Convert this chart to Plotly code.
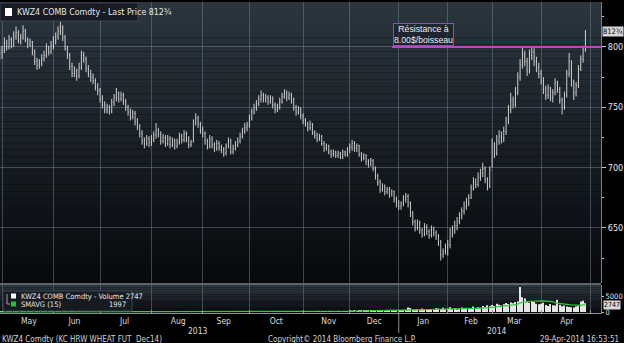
import pandas as pd
import plotly.graph_objects as go

# ---------------- data ----------------
holidays = ["2013-05-27", "2013-07-04", "2013-09-02", "2013-11-28", "2013-12-25",
            "2014-01-01", "2014-01-20", "2014-02-17", "2014-04-18"]
first_day = "2013-04-29"
last_day = "2014-04-29"
first_open = 788

closes = [
    792, 795,  # Apr 13
    797, 803, 800, 806, 801, 809, 812, 805, 808, 813, 806, 802, 804, 796, 788, 785, 786, 790, 793, 799, 796, 801,  # May
    805, 809, 813, 816, 808, 799, 793, 784, 778, 780, 776, 783, 793, 790, 782, 778, 775, 772, 767, 764,  # Jun
    757, 752, 748, 750, 747, 754, 758, 762, 757, 760, 755, 750, 746, 742, 745, 738, 734, 728, 722, 720, 724, 721,  # Jul
    724, 727, 731, 728, 722, 725, 720, 724, 719, 722, 718, 721, 726, 723, 728, 724, 719, 721, 738, 741, 736, 731,  # Aug
    728, 722, 718, 724, 719, 716, 720, 717, 715, 712, 718, 722, 713, 716, 719, 722, 726, 730, 733, 735,  # Sep
    741, 746, 750, 753, 757, 760, 756, 758, 755, 757, 752, 748, 750, 755, 759, 762, 758, 760, 756, 750, 746, 748, 743,  # Oct
    739, 736, 733, 736, 729, 727, 724, 726, 720, 716, 718, 713, 711, 713, 710, 712, 709, 713, 711, 715,  # Nov
    717, 720, 716, 718, 711, 708, 710, 705, 703, 706, 699, 693, 688, 682, 684, 680, 682, 678, 680, 674, 671,  # Dec
    668, 670, 674, 676, 670, 662, 655, 650, 654, 648, 645, 651, 647, 644, 649, 646, 643, 638, 628, 630, 634,  # Jan 14
    636, 645, 648, 652, 655, 660, 664, 668, 671, 675, 683, 688, 686, 692, 695, 699, 690, 685, 698,  # Feb
    718, 712, 722, 726, 724, 730, 738, 748, 756, 752, 762, 775, 785, 794, 788, 780, 793, 796, 788, 783, 778,  # Mar
    772, 765, 760, 766, 758, 762, 770, 765, 756, 750, 760, 778, 788, 770, 762, 768, 782, 790, 798, 812.75,  # Apr
]
highs = [
    797, 800,
    801, 808, 806, 810, 808, 813, 817, 814, 811, 818, 815, 808, 807, 805, 798, 791, 790, 794, 797, 803, 801, 805,
    809, 812, 817, 821, 818, 810, 801, 795, 787, 784, 782, 787, 797, 796, 792, 785, 781, 778, 774, 770,
    766, 760, 755, 753, 752, 757, 761, 766, 763, 763, 762, 757, 752, 749, 748, 747, 741, 736, 731, 725, 727, 726,
    727, 730, 737, 733, 730, 728, 727, 727, 726, 725, 724, 724, 729, 728, 731, 730, 726, 723, 740, 745, 743, 738,
    734, 730, 724, 727, 726, 721, 723, 722, 719, 717, 720, 725, 724, 719, 722, 725, 729, 733, 737, 738,
    744, 749, 753, 756, 760, 764, 762, 761, 760, 760, 759, 754, 753, 758, 762, 765, 764, 763, 762, 758, 752, 751, 750,
    745, 741, 738, 739, 737, 731, 729, 728, 727, 722, 720, 719, 715, 715, 714, 714, 713, 715, 714, 717,
    720, 723, 722, 720, 719, 713, 712, 711, 707, 708, 707, 701, 695, 690, 687, 686, 684, 684, 682, 681, 676,
    673, 672, 677, 679, 678, 672, 664, 657, 657, 656, 650, 654, 653, 649, 652, 651, 648, 645, 640, 633, 637,
    640, 650, 652, 656, 659, 663, 667, 672, 675, 678, 686, 692, 691, 696, 699, 704, 701, 692, 701,
    724, 721, 727, 731, 730, 734, 742, 752, 762, 759, 767, 779, 790, 800, 797, 791, 798, 800, 799, 792, 787,
    781, 775, 768, 769, 767, 765, 774, 772, 767, 758, 763, 781, 795, 789, 773, 771, 785, 793, 801, 814,
]
lows = [
    785, 789,
    790, 795, 797, 798, 799, 800, 806, 803, 802, 806, 804, 799, 800, 793, 785, 781, 782, 784, 788, 791, 793, 794,
    798, 802, 806, 810, 805, 797, 790, 781, 775, 775, 772, 774, 781, 787, 779, 775, 771, 769, 764, 760,
    754, 749, 745, 745, 744, 745, 751, 755, 754, 755, 752, 747, 743, 739, 740, 735, 731, 725, 719, 716, 718, 717,
    718, 721, 724, 725, 719, 720, 717, 718, 716, 717, 715, 716, 719, 720, 721, 721, 716, 717, 721, 735, 733, 728,
    725, 719, 715, 716, 716, 713, 714, 714, 712, 709, 710, 716, 711, 711, 714, 717, 720, 724, 728, 730,
    733, 739, 744, 747, 751, 754, 754, 754, 752, 753, 749, 745, 746, 748, 753, 757, 755, 756, 753, 747, 743, 744, 740,
    736, 734, 730, 731, 727, 724, 721, 722, 718, 713, 714, 711, 708, 709, 708, 708, 707, 707, 709, 709,
    712, 714, 713, 713, 709, 705, 706, 702, 700, 701, 697, 690, 685, 679, 680, 677, 678, 675, 676, 671, 667,
    665, 665, 668, 671, 667, 659, 652, 647, 648, 645, 642, 643, 644, 641, 642, 643, 640, 635, 623, 625, 628,
    627, 633, 642, 645, 648, 653, 657, 661, 665, 668, 674, 681, 683, 684, 689, 692, 687, 681, 683,
    700, 708, 710, 719, 720, 721, 727, 736, 745, 749, 750, 760, 772, 782, 784, 776, 778, 789, 784, 779, 774,
    769, 761, 756, 757, 755, 754, 760, 762, 753, 744, 748, 758, 775, 767, 756, 759, 766, 780, 787, 796,
]
volumes = [
    3, 5,
    8, 12, 5, 20, 15, 10, 30, 12, 8, 25, 18, 10, 14, 35, 22, 16, 12, 9, 20, 28, 15, 11,
    18, 25, 40, 30, 22, 35, 28, 45, 20, 15, 30, 42, 25, 18, 36, 50, 28, 20, 33, 60,
    40, 35, 22, 15, 30, 55, 42, 38, 26, 48, 35, 30, 62, 40, 28, 45, 70, 52, 38, 44, 60, 75,
    50, 42, 38, 65, 55, 48, 80, 60, 45, 52, 70, 58, 66, 90, 54, 48, 72, 85, 110, 95, 70, 88,
    75, 90, 68, 100, 85, 72, 95, 120, 80, 110, 90, 78, 130, 105, 88, 115, 140, 96, 120, 150,
    110, 130, 95, 160, 125, 140, 105, 170, 135, 120, 180, 150, 130, 160, 190, 145, 175, 140, 200, 165, 150, 210, 180,
    170, 220, 190, 160, 240, 205, 180, 230, 260, 210, 195, 280, 240, 220, 300, 250, 230, 270, 210, 180,
    320, 280, 350, 300, 420, 380, 330, 460, 400, 360, 520, 480, 600, 450, 380, 420, 300, 260, 350, 480, 520,
    450, 600, 700, 650, 1400, 1250, 800, 700, 900, 650, 1100, 750, 800, 600, 950, 700, 1200, 1100, 900, 1300, 850,
    1000, 1500, 900, 1200, 800, 1100, 1400, 950, 1300, 1000, 1200, 1700, 1100, 1500, 1300, 1900, 1600, 2100, 1800,
    2200, 1900, 2600, 2300, 2000, 2400, 2800, 2500, 3000, 2700, 3100, 3300, 7800, 4600, 4200, 3300, 2900, 3400, 3100, 2600, 2400,
    2600, 2900, 2200, 1900, 2500, 2100, 2000, 3800, 2300, 1800, 2000, 1700, 1600, 1500, 1400, 1700, 1900, 3300, 3500, 2747,
]
price_ticks = [650, 700, 750, 800]
resistance = 800
last_price_text = "812¾"
volume_text = "2747"
sma_text = "1997"

# ---------------- build ----------------
dates = [d for d in pd.bdate_range(first_day, last_day) if d.strftime("%Y-%m-%d") not in holidays]
n = min(len(dates), len(closes), len(highs), len(lows), len(volumes))
dates, closes, highs, lows, volumes = dates[:n], closes[:n], highs[:n], lows[:n], volumes[:n]
opens = [first_open] + closes[:-1]
sma = pd.Series(volumes).rolling(15, min_periods=1).mean().tolist()

FONT = "Liberation Sans Narrow, Arial Narrow, DejaVu Sans Condensed, Liberation Sans, sans-serif"
FONT2 = "Liberation Sans, Arial, sans-serif"
GRID = "rgba(115,128,140,0.50)"

fig = go.Figure()
fig.add_trace(go.Ohlc(
    x=dates, open=opens, high=highs, low=lows, close=closes,
    increasing=dict(line=dict(color="#ececec", width=0.85)),
    decreasing=dict(line=dict(color="#ececec", width=0.85)),
    tickwidth=0.2, xaxis="x", yaxis="y", showlegend=False, hoverinfo="skip"))
fig.add_trace(go.Bar(
    x=dates, y=volumes, marker=dict(color="#e6e6e6", line=dict(width=0)),
    xaxis="x2", yaxis="y2", showlegend=False, hoverinfo="skip"))
fig.add_trace(go.Scatter(
    x=dates, y=sma, mode="lines", line=dict(color="#2fc83a", width=1.2),
    xaxis="x2", yaxis="y2", showlegend=False, hoverinfo="skip"))

rb = [dict(bounds=["sat", "mon"]), dict(values=holidays)]
xr = ["2013-04-30 03:00", "2014-05-07 16:00"]

# pixel geometry helpers (plot area: x 0..601, y 2..313)
H_PLOT = 311.0
main_dom = [(313 - 283) / H_PLOT, 1.0]
vol_dom = [0.0, (313 - 285) / H_PLOT]

def ydm(py):   # pixel y -> main y-domain fraction
    return 1 - (py - 2) / 281.0

def ydv(py):   # pixel y -> volume y-domain fraction
    return 1 - (py - 285) / 28.0

def xd(px):
    return px / 601.0

def yp(py):    # pixel y -> paper fraction
    return (313 - py) / H_PLOT

shapes = []
# gradient backgrounds
nb = 40
top, bot = (43, 53, 62), (7, 9, 12)
for i in range(nb):
    t = i / (nb - 1)
    c = tuple(int(round(top[k] + (bot[k] - top[k]) * t)) for k in range(3))
    shapes.append(dict(type="rect", xref="x domain", yref="y domain", x0=0, x1=1,
                       y0=1 - (i + 1) / nb, y1=1 - i / nb, fillcolor="rgb(%d,%d,%d)" % c,
                       line=dict(width=0), layer="below"))
nv = 12
vtop, vbot = (44, 52, 60), (10, 12, 15)
for i in range(nv):
    t = i / (nv - 1)
    c = tuple(int(round(vtop[k] + (vbot[k] - vtop[k]) * t)) for k in range(3))
    shapes.append(dict(type="rect", xref="x2 domain", yref="y2 domain", x0=0, x1=1,
                       y0=1 - (i + 1) / nv, y1=1 - i / nv, fillcolor="rgb(%d,%d,%d)" % c,
                       line=dict(width=0), layer="below"))
# separator between panels
shapes.append(dict(type="rect", xref="paper", yref="paper", x0=0, x1=1,
                   y0=vol_dom[1], y1=main_dom[0], fillcolor="#5d646b", line=dict(width=0), layer="below"))
# resistance line
shapes.append(dict(type="line", xref="x domain", yref="y", x0=xd(392), x1=1, y0=resistance, y1=resistance,
                   line=dict(color="#c63fcf", width=2)))
# legend boxes
shapes.append(dict(type="rect", xref="x domain", yref="y domain", x0=0, x1=xd(138), y0=ydm(21), y1=ydm(3),
                   fillcolor="rgba(22,27,33,0.95)", line=dict(color="#3b4550", width=1)))
shapes.append(dict(type="rect", xref="x domain", yref="y domain", x0=xd(5), x1=xd(12), y0=ydm(16), y1=ydm(8),
                   fillcolor="#ffffff", line=dict(width=0)))
shapes.append(dict(type="rect", xref="x2 domain", yref="y2 domain", x0=xd(3), x1=xd(132), y0=ydv(311), y1=ydv(291),
                   fillcolor="rgba(22,27,33,0.95)", line=dict(color="#3b4550", width=1)))
shapes.append(dict(type="rect", xref="x2 domain", yref="y2 domain", x0=xd(11), x1=xd(16), y0=ydv(298.5), y1=ydv(293.5),
                   fillcolor="#ffffff", line=dict(width=0)))
shapes.append(dict(type="rect", xref="x2 domain", yref="y2 domain", x0=xd(11), x1=xd(16), y0=ydv(306.5), y1=ydv(301.5),
                   fillcolor="#22c22a", line=dict(width=0)))
shapes.append(dict(type="path", xref="paper", yref="paper",
                   path="M %f %f L %f %f L %f %f" % (xd(7), yp(294), xd(7), yp(304), xd(10), yp(304)),
                   line=dict(color="#9aa0a6", width=1)))
# year separator tick
shapes.append(dict(type="line", xref="x2", yref="paper", x0="2014-01-02", x1="2014-01-02",
                   y0=0, y1=yp(333), line=dict(color="#8a8f95", width=1)))

annotations = [
    dict(xref="x domain", yref="y domain", x=xd(15), y=ydm(12), xanchor="left", yanchor="middle",
         text="KWZ4 COMB Comdty - Last Price 812¾", showarrow=False,
         font=dict(family=FONT, size=8.8, color="#e6e6e6")),
    dict(xref="x domain", yref="y", x=xd(393), y=resistance + 1, xanchor="left", yanchor="bottom",
         text="Résistance à<br>8.00$/boisseau", showarrow=False, align="center",
         bordercolor="#7d5b9c", borderwidth=1, borderpad=0, bgcolor="rgba(25,30,40,0.6)",
         font=dict(family=FONT2, size=8.7, color="#ececec")),
    dict(xref="paper", yref="y", x=1.002, y=812.75, xanchor="left", yanchor="middle",
         text=last_price_text, showarrow=False, bgcolor="#d8d8d8", borderpad=0,
         font=dict(family=FONT, size=7.5, color="#000000")),
    dict(xref="x2 domain", yref="y2 domain", x=xd(19), y=ydv(296), xanchor="left", yanchor="middle",
         text="KWZ4 COMB Comdty - Volume " + volume_text, showarrow=False,
         font=dict(family=FONT, size=7.5, color="#e6e6e6")),
    dict(xref="x2 domain", yref="y2 domain", x=xd(19), y=ydv(304.5), xanchor="left", yanchor="middle",
         text="SMAVG (15)", showarrow=False, font=dict(family=FONT, size=7.5, color="#e6e6e6")),
    dict(xref="x2 domain", yref="y2 domain", x=xd(128), y=ydv(304.5), xanchor="right", yanchor="middle",
         text=sma_text, showarrow=False, font=dict(family=FONT, size=7.5, color="#e6e6e6")),
    dict(xref="paper", yref="y2", x=1.003, y=2300, xanchor="left", yanchor="middle",
         text=volume_text, showarrow=False, bgcolor="#d8d8d8", borderpad=0,
         font=dict(family=FONT, size=7, color="#000000")),
    dict(xref="paper", yref="paper", x=xd(198), y=yp(330.5), xanchor="center", yanchor="middle",
         text="2013", showarrow=False, font=dict(family=FONT, size=8.5, color="#dcdcdc")),
    dict(xref="paper", yref="paper", x=xd(497), y=yp(330.5), xanchor="center", yanchor="middle",
         text="2014", showarrow=False, font=dict(family=FONT, size=8.5, color="#dcdcdc")),
    dict(xref="paper", yref="paper", x=0, y=yp(339.5), xanchor="left", yanchor="middle",
         text="KWZ4 Comdty (KC HRW WHEAT FUT \u00a0Dec14)", showarrow=False,
         font=dict(family=FONT, size=8, color="#d4d4d4")),
    dict(xref="paper", yref="paper", x=xd(342), y=yp(339.5), xanchor="center", yanchor="middle",
         text="Copyright© 2014 Bloomberg Finance L.P.", showarrow=False,
         font=dict(family=FONT, size=8, color="#d4d4d4")),
    dict(xref="paper", yref="paper", x=xd(621), y=yp(339.5), xanchor="right", yanchor="middle",
         text="29-Apr-2014 16:53:51", showarrow=False,
         font=dict(family=FONT, size=8, color="#d4d4d4")),
]

fig.update_layout(
    width=624, height=343, margin=dict(l=0, r=23, t=2, b=30),
    paper_bgcolor="#000000", plot_bgcolor="#000000",
    showlegend=False, bargap=0.5,
    font=dict(family=FONT, size=9, color="#e0e0e0"),
    shapes=shapes, annotations=annotations,
    xaxis=dict(domain=[0, 1], anchor="y", type="date", range=xr, rangebreaks=rb,
               rangeslider=dict(visible=False), showticklabels=False, ticks="",
               showgrid=True, gridcolor=GRID, gridwidth=1, dtick="M1", tick0="2013-05-01",
               zeroline=False, showline=False),
    yaxis=dict(domain=main_dom, anchor="x", side="right", range=[604.3, 837.3],
               tickmode="linear", tick0=650, dtick=50, showgrid=True, gridcolor=GRID,
               ticks="outside", ticklen=4, tickcolor="#c8c8c8",
               minor=dict(dtick=25, ticks="outside", ticklen=2, tickcolor="#c8c8c8", showgrid=False),
               showline=True, linecolor="#7a7f85", zeroline=False,
               tickfont=dict(family=FONT, size=9, color="#e8e8e8")),
    xaxis2=dict(domain=[0, 1], anchor="y2", type="date", range=xr, rangebreaks=rb,
                tickformat="%b", ticklabelmode="period", dtick="M1", tick0="2013-05-01",
                ticks="inside", ticklen=3, tickcolor="#9a9a9a",
                showline=True, linecolor="#8a8f95", showgrid=True, gridcolor=GRID,
                zeroline=False, tickfont=dict(family=FONT, size=8.5, color="#dcdcdc")),
    yaxis2=dict(domain=vol_dom, anchor="x2", side="right", range=[-312, 8437],
                tickmode="array", tickvals=[0, 5000], ticktext=["0", "5000"],
                showgrid=False, ticks="outside", ticklen=2, tickcolor="#c8c8c8",
                showline=True, linecolor="#7a7f85", zeroline=False,
                tickfont=dict(family=FONT, size=7.5, color="#e8e8e8")),
)

fig.write_html("out.html")
